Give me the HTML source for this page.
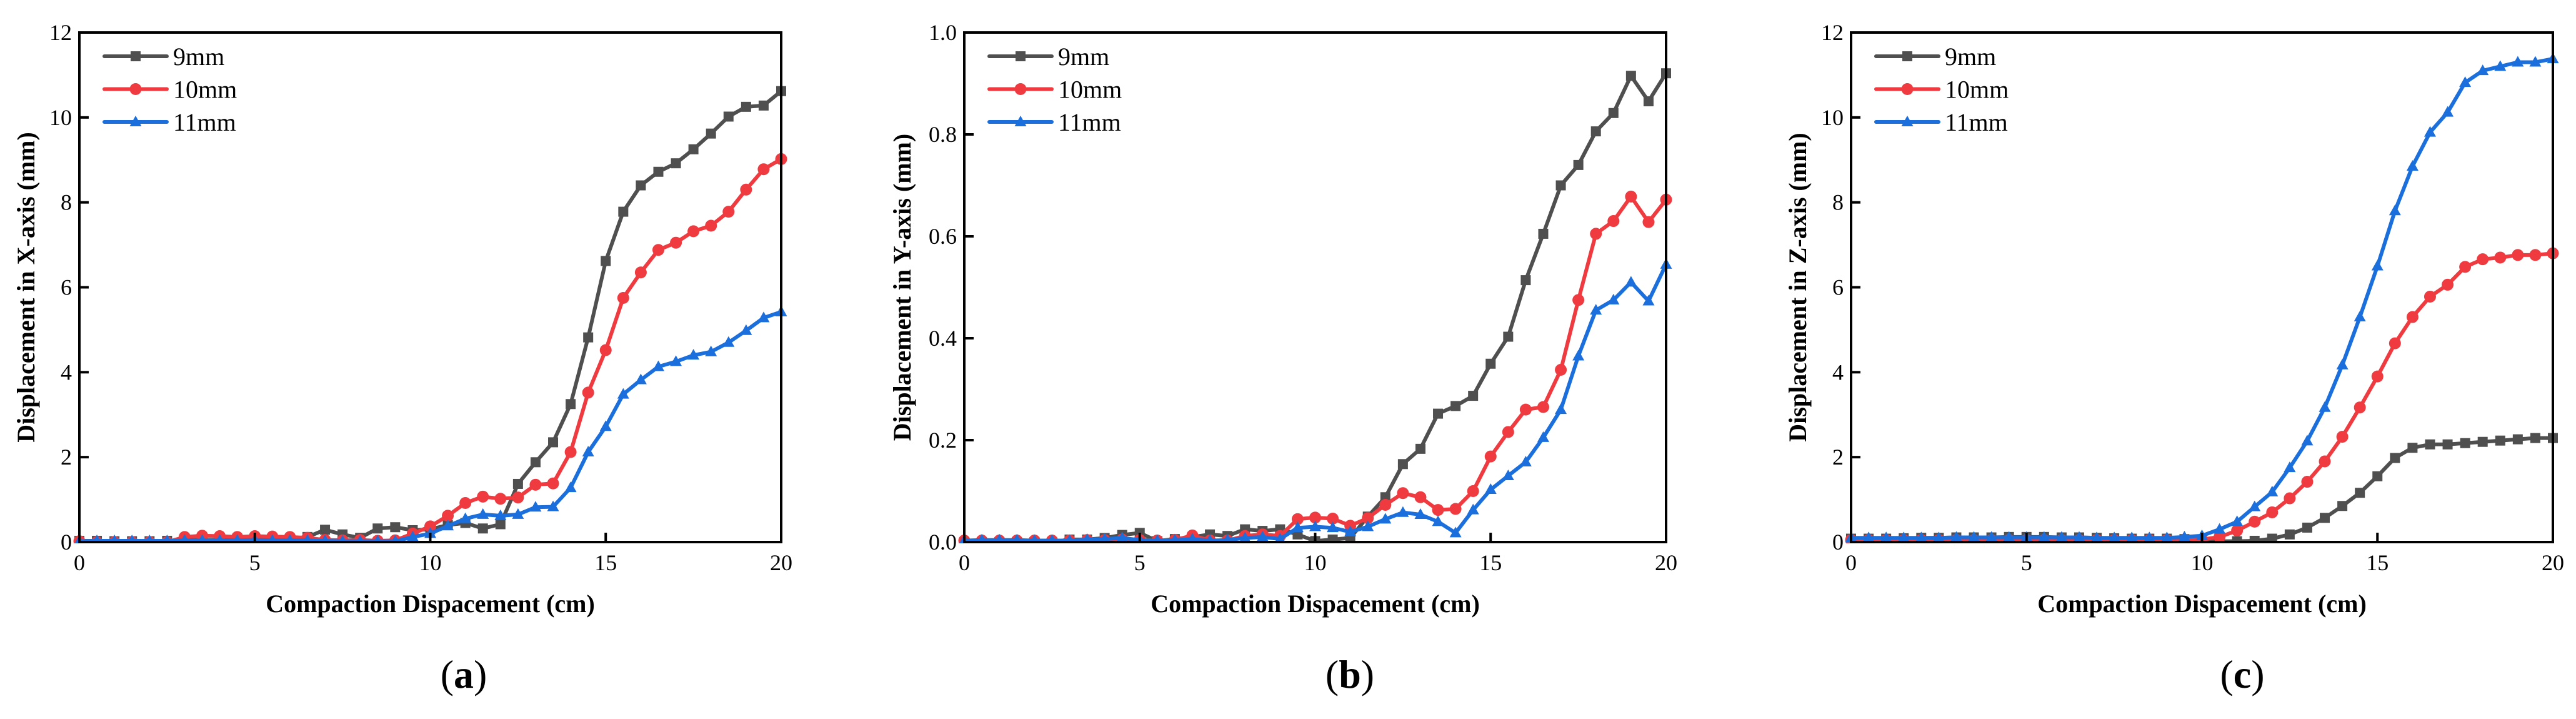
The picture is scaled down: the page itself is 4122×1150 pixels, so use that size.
<!DOCTYPE html>
<html><head><meta charset="utf-8">
<style>
html,body{margin:0;padding:0;background:#fff;}
svg{display:block;font-family:"Liberation Serif","Times New Roman",serif;}
svg text{font-family:"Liberation Serif","Times New Roman",serif;fill:#000;}
</style></head>
<body>
<svg id="fig" width="4122" height="1150" viewBox="0 0 4122 1150" font-family="Liberation Serif, serif" xmlns="http://www.w3.org/2000/svg"></svg>
<script>
const xValues = [0,0.5,1,1.5,2,2.5,3,3.5,4,4.5,5,5.5,6,6.5,7,7.5,8,8.5,9,9.5,10,10.5,11,11.5,12,12.5,13,13.5,14,14.5,15,15.5,16,16.5,17,17.5,18,18.5,19,19.5,20];
const seriesNames = ["9mm","10mm","11mm"];
const xTicks = [0,5,10,15,20];
const xTickLabels = ["0","5","10","15","20"];

const aTicks = [0,2,4,6,8,10,12];
const aTickLabels = ["0","2","4","6","8","10","12"];
const a9 = [0.03,0.03,0.02,0.02,0.02,0.03,0.05,0.05,0.05,0.06,0.08,0.08,0.08,0.12,0.29,0.18,0.1,0.32,0.35,0.28,0.3,0.4,0.45,0.32,0.42,1.37,1.88,2.35,3.25,4.82,6.62,7.78,8.4,8.72,8.92,9.25,9.62,10.02,10.25,10.28,10.62];
const a10 = [0.02,0,0,0,0,0,0.12,0.15,0.14,0.12,0.14,0.13,0.12,0.1,0.05,0.04,0.05,0.03,0.04,0.2,0.37,0.62,0.92,1.07,1.02,1.05,1.35,1.38,2.12,3.52,4.52,5.75,6.35,6.88,7.05,7.32,7.45,7.78,8.3,8.78,9.02];
const a11 = [0.02,0.03,0.03,0.03,0.03,0.03,0.04,0.04,0.04,0.04,0.05,0.04,0.04,0.04,0.03,0.02,0.02,0.02,0.02,0.12,0.2,0.38,0.55,0.65,0.62,0.65,0.82,0.83,1.28,2.12,2.72,3.48,3.82,4.13,4.25,4.4,4.48,4.7,4.98,5.28,5.42];

const bTicks = [0,0.2,0.4,0.6,0.8,1.0];
const bTickLabels = ["0.0","0.2","0.4","0.6","0.8","1.0"];
const b9 = [0,0,0,0,0,0,0.005,0.005,0.008,0.014,0.018,0.002,0.006,0.01,0.015,0.012,0.025,0.022,0.025,0.015,0.002,0.005,0.008,0.05,0.088,0.153,0.183,0.252,0.267,0.287,0.35,0.403,0.514,0.605,0.7,0.74,0.806,0.842,0.915,0.865,0.92];
const b10 = [0.003,0.003,0.003,0.003,0.003,0.003,0.003,0.004,0.004,0.005,0.004,0.003,0.004,0.013,0.003,0.003,0.012,0.015,0.012,0.045,0.048,0.046,0.032,0.047,0.073,0.096,0.088,0.063,0.065,0.1,0.168,0.216,0.26,0.265,0.338,0.475,0.605,0.63,0.678,0.628,0.672];
const b11 = [0.003,0.004,0.004,0.004,0.003,0.003,0.003,0.005,0.006,0.008,0.004,0.003,0.004,0.006,0.003,0.004,0.008,0.01,0.006,0.028,0.03,0.028,0.02,0.03,0.045,0.058,0.054,0.04,0.018,0.063,0.103,0.13,0.157,0.205,0.26,0.365,0.455,0.475,0.51,0.473,0.545];

const cTicks = [0,2,4,6,8,10,12];
const cTickLabels = ["0","2","4","6","8","10","12"];
const c9 = [0.08,0.08,0.08,0.09,0.1,0.1,0.11,0.11,0.11,0.12,0.12,0.12,0.11,0.11,0.1,0.09,0.08,0.08,0.08,0.07,0.05,0.02,0.02,0.03,0.08,0.18,0.34,0.57,0.85,1.16,1.55,1.98,2.22,2.3,2.3,2.33,2.36,2.39,2.42,2.45,2.45];
const c10 = [0.05,0.05,0.05,0.05,0.05,0.05,0.05,0.05,0.05,0.05,0.05,0.05,0.05,0.05,0.05,0.05,0.05,0.05,0.05,0.05,0.06,0.12,0.27,0.48,0.7,1.03,1.42,1.9,2.48,3.17,3.9,4.68,5.3,5.78,6.06,6.48,6.66,6.7,6.76,6.76,6.8];
const c11 = [0.1,0.1,0.1,0.1,0.1,0.1,0.11,0.11,0.11,0.11,0.11,0.11,0.11,0.11,0.1,0.1,0.1,0.1,0.1,0.12,0.15,0.3,0.48,0.83,1.18,1.75,2.38,3.17,4.17,5.3,6.5,7.8,8.85,9.65,10.12,10.82,11.1,11.2,11.3,11.3,11.38];

const colors = ["#4f4f4f","#ef3a3f","#1a6fdd"];
const NS = "http://www.w3.org/2000/svg";
const FONT = "Liberation Serif, Times New Roman, serif";
const svg = document.getElementById("fig");
function mk(tag, attrs, parent){const e=document.createElementNS(NS,tag);for(const k in attrs)e.setAttribute(k,attrs[k]);if(tag==="text")e.setAttribute("font-family",FONT);(parent||svg).appendChild(e);return e;}

function marker(g, kind, cx, cy, color){
  let m;
  if(kind===0) m = mk("rect",{x:cx-8,y:cy-8,width:16,height:16,fill:color},g);
  else if(kind===1) m = mk("circle",{cx:cx,cy:cy,r:9.5,fill:color},g);
  else m = mk("polygon",{points:`${cx},${cy-10} ${cx-9.5},${cy+7} ${cx+9.5},${cy+7}`,fill:color},g);
  return m;
}

function panel(id, left, yMax, yTicks, yLabels, series, ytitle, letter, letterX){
  const top=52, bottom=867, right=left+1123;
  const xs = v => left + (v/20)*(right-left);
  const ys = v => bottom - (v/yMax)*(bottom-top);
  const g = mk("g",{});
  
  
  series.forEach((vals, si)=>{
    const sg = mk("g",{},g);
    
    
    const pts = vals.map((v,i)=>xs(xValues[i]).toFixed(1)+","+ys(v).toFixed(1)).join(" ");
    const pl = mk("polyline",{points:pts,fill:"none",stroke:colors[si],"stroke-width":6,"stroke-linejoin":"round"},sg);
    
    
    vals.forEach((v,i)=>{
      const m = marker(sg, si, xs(xValues[i]), ys(v), colors[si]);
      
      
    });
  });
  mk("rect",{x:left-20,y:bottom+2,width:1170,height:20,fill:"#fff"},g);
  const fr = mk("rect",{x:left,y:top,width:right-left,height:bottom-top,fill:"none",stroke:"#000","stroke-width":4},g);
  
  
  xTicks.forEach((t,i)=>{
    mk("line",{x1:xs(t),x2:xs(t),y1:bottom,y2:bottom-15,stroke:"#000","stroke-width":4},g);
    const tx = mk("text",{x:xs(t),y:912,"font-size":36,"text-anchor":"middle"},g);
    tx.textContent = xTickLabels[i];
    
    
  });
  yTicks.forEach((t,i)=>{
    mk("line",{x1:left,x2:left+15,y1:ys(t),y2:ys(t),stroke:"#000","stroke-width":4},g);
    const tx = mk("text",{x:left-12,y:ys(t)+12,"font-size":36,"text-anchor":"end"},g);
    tx.textContent = yLabels[i];
    
    
  });
  const xt = mk("text",{x:(left+right)/2,y:979,"font-size":40,"font-weight":"bold","text-anchor":"middle"},g);
  xt.textContent = "Compaction Dispacement (cm)";
  
  
  const ytx = left - (yLabels[0].length>1 ? 86 : 72);
  const yt = mk("text",{x:0,y:0,"font-size":40,"font-weight":"bold","text-anchor":"middle",transform:`translate(${ytx},${(top+bottom)/2}) rotate(-90)`},g);
  yt.textContent = ytitle;
  
  
  seriesNames.forEach((n,i)=>{
    const lg = mk("g",{},g);
    
    
    const ly = 90 + i*52.5;
    mk("line",{x1:left+40,x2:left+140,y1:ly,y2:ly,stroke:colors[i],"stroke-width":6,"stroke-linecap":"round"},lg);
    marker(lg, i, left+90, ly, colors[i]);
    const t = mk("text",{x:left+150,y:ly+14,"font-size":40},lg);
    t.textContent = n;
  });
  const pt = mk("text",{x:letterX,y:1100,"font-size":64,"text-anchor":"middle"},g);
  pt.innerHTML = '(<tspan font-weight="bold">'+letter+'</tspan>)';
  
  
}

panel("a",127,12,aTicks,aTickLabels,[a9,a10,a11],"Displacement in X-axis (mm)","a",742);
panel("b",1543,1.0,bTicks,bTickLabels,[b9,b10,b11],"Displacement in Y-axis (mm)","b",2160);
panel("c",2962,12,cTicks,cTickLabels,[c9,c10,c11],"Displacement in Z-axis (mm)","c",3588);
</script>
</body></html>
